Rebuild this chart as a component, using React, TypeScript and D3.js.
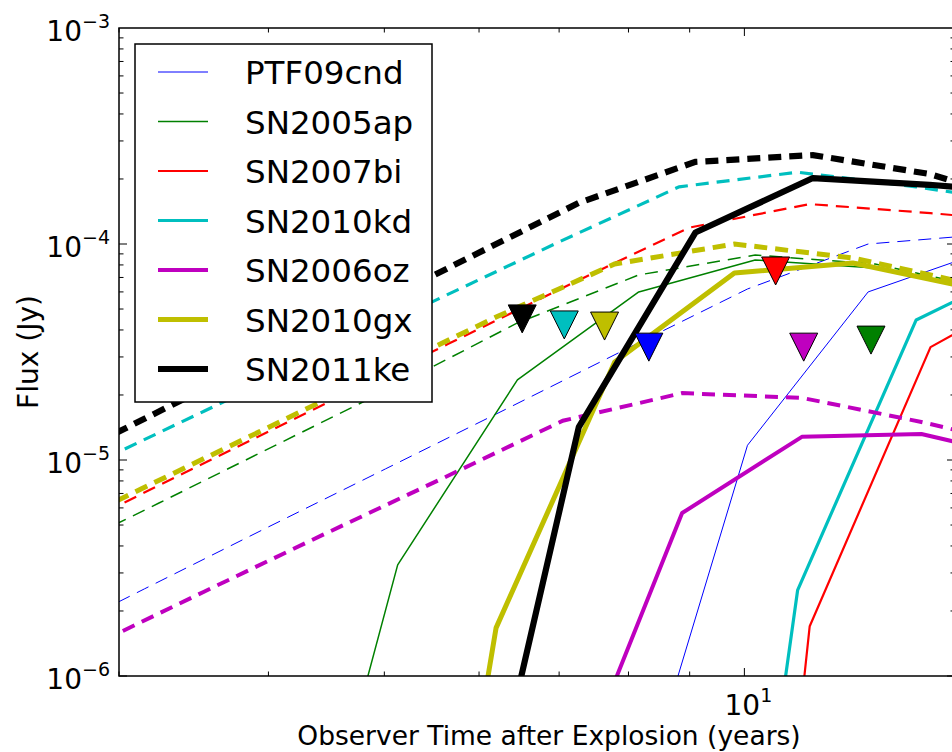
import React, { useEffect, useRef } from 'react';
import * as d3 from 'd3';

type Pt = [number, number];

// series, in legend order
const names = ['PTF09cnd', 'SN2005ap', 'SN2007bi', 'SN2010kd', 'SN2006oz', 'SN2010gx', 'SN2011ke'];
const colors = ['#0000ff', '#008000', '#ff0000', '#00bfbf', '#bf00bf', '#bfbf00', '#000000'];
const widths = [1, 1.5, 2.2, 3.2, 4, 5, 6.2];

// dashed model curves (time in years, flux in Jy)
const ptf09cndDashed: Pt[] = [[2.50, 1.33e-6], [3.15, 2.53e-6], [3.97, 4.80e-6], [5.01, 9.09e-6], [6.32, 1.72e-5], [7.97, 3.27e-5], [10.06, 6.19e-5], [12.69, 1.00e-4], [16.0, 1.11e-4]];
const sn2005apDashed: Pt[] = [[2.57, 3.37e-6], [3.24, 6.32e-6], [4.08, 1.19e-5], [5.13, 2.23e-5], [6.46, 4.31e-5], [8.16, 7.19e-5], [10.21, 8.89e-5], [12.86, 8.08e-5], [16.19, 6.12e-5]];
const sn2007biDashed: Pt[] = [[2.82, 5.22e-6], [3.55, 9.79e-6], [4.48, 1.84e-5], [5.65, 3.44e-5], [7.13, 6.46e-5], [8.99, 1.19e-4], [11.34, 1.53e-4], [14.31, 1.39e-4], [18.04, 1.24e-4]];
const sn2010kdDashed: Pt[] = [[2.82, 9.28e-6], [3.54, 1.69e-5], [4.44, 3.10e-5], [5.59, 5.68e-5], [7.02, 1.03e-4], [8.82, 1.84e-4], [11.08, 2.15e-4], [13.92, 1.84e-4], [17.49, 1.52e-4]];
const sn2006ozDashed: Pt[] = [[2.81, 1.33e-6], [3.53, 2.45e-6], [4.44, 4.50e-6], [5.60, 8.25e-6], [7.05, 1.52e-5], [8.87, 2.04e-5], [11.17, 1.94e-5], [14.06, 1.50e-5], [17.69, 1.11e-5]];
const sn2010gxDashed: Pt[] = [[2.49, 3.96e-6], [3.13, 7.34e-6], [3.93, 1.35e-5], [4.94, 2.50e-5], [6.20, 4.59e-5], [7.79, 8.08e-5], [9.81, 1.00e-4], [12.32, 8.61e-5], [15.48, 6.53e-5]];
const sn2011keDashed: Pt[] = [[2.98, 1.33e-5], [3.73, 2.48e-5], [4.67, 4.55e-5], [5.83, 8.43e-5], [7.27, 1.55e-4], [9.10, 2.40e-4], [11.41, 2.58e-4], [14.28, 2.11e-4], [17.9, 1.44e-4]];

// solid model curves
const ptf09cndSolid: Pt[] = [[7.97, 1.62e-7], [10.06, 1.17e-5], [12.69, 6.00e-5], [16.0, 9.38e-5]];
const sn2005apSolid: Pt[] = [[4.08, 2.87e-8], [5.13, 3.27e-6], [6.46, 2.35e-5], [8.16, 6.00e-5], [10.21, 8.43e-5], [12.86, 7.74e-5], [16.19, 5.87e-5]];
const sn2007biSolid: Pt[] = [[8.99, 1e-11], [11.34, 1.70e-6], [14.31, 3.33e-5], [18.04, 6.81e-5]];
const sn2010kdSolid: Pt[] = [[8.82, 3.0e-10], [11.08, 2.50e-6], [13.92, 4.45e-5], [17.49, 8.25e-5]];
const sn2006ozSolid: Pt[] = [[7.05, 2.37e-7], [8.87, 5.68e-6], [11.17, 1.28e-5], [14.06, 1.32e-5], [17.69, 9.79e-6]];
const sn2010gxSolid: Pt[] = [[4.94, 8.8e-10], [6.20, 1.67e-6], [7.79, 2.84e-5], [9.81, 7.34e-5], [12.32, 8.17e-5], [15.48, 6.26e-5]];
const sn2011keSolid: Pt[] = [[5.83, 7.1e-8], [7.27, 1.42e-5], [9.10, 1.13e-4], [11.41, 2.02e-4], [14.28, 1.88e-4], [17.9, 1.69e-4]];

// upper limits (triangles), same order as names
const limitTimes = [8.32, 12.76, 10.62, 7.07, 11.21, 7.64, 6.52];
const limitFluxes = [3.33e-5, 3.59e-5, 7.50e-5, 4.22e-5, 3.33e-5, 4.17e-5, 4.50e-5];

const dashedSets = [ptf09cndDashed, sn2005apDashed, sn2007biDashed, sn2010kdDashed, sn2006ozDashed, sn2010gxDashed, sn2011keDashed];
const solidSets = [ptf09cndSolid, sn2005apSolid, sn2007biSolid, sn2010kdSolid, sn2006ozSolid, sn2010gxSolid, sn2011keSolid];

const yTickExp = [-6, -5, -4, -3];

const W = 952;
const H = 752;
const FONT = 'DejaVu Sans, sans-serif';

const App: React.FC = () => {
    const ref = useRef<SVGSVGElement>(null);

    useEffect(() => {
        if (!ref.current) return;
        const svg = d3.select(ref.current);
        svg.selectAll('*').remove();

        // right spine sits just past the picture's edge
        const left = 119, right = 955, top = 28, bottom = 676;
        const x = d3.scaleLog().domain([3, 15]).range([left, right]);
        const y = d3.scaleLog().domain([1e-6, 1e-3]).range([bottom, top]);

        svg.append('rect').attr('width', W).attr('height', H).attr('fill', '#fff');

        svg.append('clipPath').attr('id', 'plot-clip')
            .append('rect')
            .attr('x', left).attr('y', top)
            .attr('width', right - left).attr('height', bottom - top);

        const plot = svg.append('g').attr('clip-path', 'url(#plot-clip)');
        const line = d3.line<Pt>().x(d => x(d[0])).y(d => y(d[1]));

        names.forEach((name, i) => {
            plot.append('path')
                .attr('d', line(dashedSets[i]))
                .attr('fill', 'none')
                .attr('stroke', colors[i])
                .attr('stroke-width', widths[i])
                .attr('stroke-dasharray', '13,8');
            plot.append('path')
                .attr('d', line(solidSets[i]))
                .attr('fill', 'none')
                .attr('stroke', colors[i])
                .attr('stroke-width', widths[i])
                .attr('stroke-linejoin', 'round');
        });

        // upper limit markers
        const ms = 14;
        names.forEach((name, i) => {
            const cx = x(limitTimes[i]);
            const cy = y(limitFluxes[i]);
            plot.append('path')
                .attr('d', `M${cx},${cy + ms}L${cx - ms},${cy - ms}L${cx + ms},${cy - ms}Z`)
                .attr('fill', colors[i])
                .attr('stroke', '#000')
                .attr('stroke-width', 1);
        });

        // ticks (inside, all four sides)
        const ticks = svg.append('g').attr('stroke', '#000').attr('stroke-width', 1);
        const major = 8, minor = 4.5;
        x.ticks().forEach(t => {
            const isMajor = Math.abs(Math.log10(t) - Math.round(Math.log10(t))) < 1e-9;
            const len = isMajor ? major : minor;
            const px = x(t);
            ticks.append('line').attr('x1', px).attr('x2', px).attr('y1', bottom).attr('y2', bottom - len);
            ticks.append('line').attr('x1', px).attr('x2', px).attr('y1', top).attr('y2', top + len);
        });
        for (let e = -6; e < -3; e++) {
            for (let m = 1; m <= 9; m++) {
                const py = y(m * Math.pow(10, e));
                const len = m === 1 ? major : minor;
                ticks.append('line').attr('x1', left).attr('x2', left + len).attr('y1', py).attr('y2', py);
                ticks.append('line').attr('x1', right).attr('x2', right - len).attr('y1', py).attr('y2', py);
            }
        }

        // frame
        svg.append('rect')
            .attr('x', left).attr('y', top)
            .attr('width', right - left).attr('height', bottom - top)
            .attr('fill', 'none').attr('stroke', '#000').attr('stroke-width', 1.5);

        // y tick labels
        yTickExp.forEach(e => {
            const t = svg.append('text')
                .attr('x', 110).attr('y', y(Math.pow(10, e)) + 13)
                .attr('text-anchor', 'end')
                .attr('font-family', FONT)
                .attr('font-size', 28);
            t.append('tspan').text('10');
            t.append('tspan').attr('font-size', 19).attr('dy', -13).text(`\u2212${-e}`);
        });

        // x tick label
        const xt = svg.append('text')
            .attr('x', x(10) + 4).attr('y', 715)
            .attr('text-anchor', 'middle')
            .attr('font-family', FONT)
            .attr('font-size', 28);
        xt.append('tspan').text('10');
        xt.append('tspan').attr('font-size', 19).attr('dy', -13).text('1');

        svg.append('text')
            .attr('x', 549).attr('y', 745)
            .attr('text-anchor', 'middle')
            .attr('font-family', FONT)
            .attr('font-size', 26.5)
            .text('Observer Time after Explosion (years)');

        svg.append('text')
            .attr('transform', `translate(38, ${(top + bottom) / 2}) rotate(-90)`)
            .attr('text-anchor', 'middle')
            .attr('font-family', FONT)
            .attr('font-size', 28)
            .text('Flux (Jy)');

        // legend
        const lg = svg.append('g');
        lg.append('rect')
            .attr('x', 135).attr('y', 44)
            .attr('width', 297).attr('height', 358)
            .attr('fill', '#fff').attr('stroke', '#000').attr('stroke-width', 1.5);
        names.forEach((name, i) => {
            const ly = 72 + i * 49.5;
            lg.append('line')
                .attr('x1', 158).attr('x2', 208)
                .attr('y1', ly).attr('y2', ly)
                .attr('stroke', colors[i]).attr('stroke-width', widths[i]);
            lg.append('text')
                .attr('x', 245).attr('y', ly + 12)
                .attr('font-family', FONT)
                .attr('font-size', 32.5)
                .text(name);
        });
    }, []);

    return (
        <svg ref={ref} width={W} height={H}
            style={{ position: 'absolute', left: 0, top: 0, display: 'block' }} />
    );
};

export default App;
